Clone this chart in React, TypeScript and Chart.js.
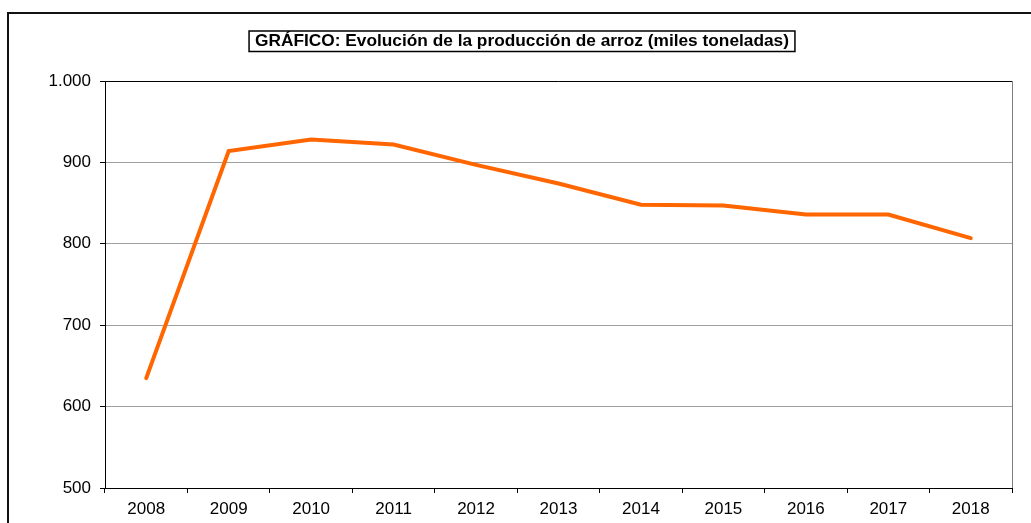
import React, { useEffect, useRef } from "react";
import { Chart, registerables } from "chart.js";

Chart.register(...registerables);

const years = ["2008", "2009", "2010", "2011", "2012", "2013", "2014", "2015", "2016", "2017", "2018"];
const production = [635, 914, 928, 922, 897, 874, 848, 847, 836, 836, 807];
const yTicks = [500, 600, 700, 800, 900, 1000];
const titleText = "GRÁFICO: Evolución de la producción de arroz (miles toneladas)";

const FONT = '"Liberation Sans", Arial, sans-serif';

function fmt(v: number): string {
  return String(v).replace(/\B(?=(\d{3})+(?!\d))/g, ".");
}

const decorPlugin = {
  id: "decor",
  afterDraw(chart: any) {
    const { ctx, chartArea } = chart;
    ctx.save();
    // outer frame
    ctx.strokeStyle = "#111";
    ctx.lineWidth = 2;
    ctx.strokeRect(8, 13, 1200, 700);
    // plot area top & right borders
    ctx.lineWidth = 1;
    ctx.strokeStyle = "#000";
    ctx.beginPath();
    ctx.moveTo(chartArea.left, Math.round(chartArea.top) + 0.5);
    ctx.lineTo(chartArea.right, Math.round(chartArea.top) + 0.5);
    ctx.stroke();
    ctx.strokeStyle = "#808080";
    ctx.beginPath();
    ctx.moveTo(Math.round(chartArea.right) + 0.5, chartArea.top);
    ctx.lineTo(Math.round(chartArea.right) + 0.5, chartArea.bottom);
    ctx.stroke();
    // title with box
    ctx.font = "bold 17.3px " + FONT;
    ctx.fillStyle = "#000";
    ctx.textAlign = "center";
    ctx.textBaseline = "middle";
    const cx = 522;
    const cy = 41.5;
    ctx.fillText(titleText, cx, cy);
    const w = ctx.measureText(titleText).width;
    ctx.lineWidth = 1.5;
    ctx.strokeStyle = "#000";
    ctx.strokeRect(cx - w / 2 - 6, 31, w + 12, 20.5);
    ctx.restore();
  },
};

export default function App() {
  const ref = useRef<HTMLCanvasElement | null>(null);

  useEffect(() => {
    if (!ref.current) return;
    const chart = new Chart(ref.current, {
      type: "line",
      data: {
        labels: years,
        datasets: [
          {
            data: production,
            borderColor: "#FF6600",
            backgroundColor: "#FF6600",
            borderWidth: 4,
            pointRadius: 0,
            tension: 0,
            borderCapStyle: "round",
            fill: false,
          },
        ],
      },
      options: {
        animation: false,
        responsive: false,
        maintainAspectRatio: false,
        layout: { padding: { left: 0, top: 81, right: 19, bottom: 0 } },
        plugins: {
          legend: { display: false },
          title: { display: false },
          tooltip: { enabled: false },
        },
        scales: {
          x: {
            type: "category",
            offset: true,
            grid: {
              offset: true,
              drawOnChartArea: false,
              drawTicks: true,
              tickLength: 5,
              tickColor: "#000",
              tickWidth: 1,
            },
            border: { display: true, color: "#000", width: 1 },
            ticks: {
              color: "#000",
              font: { family: FONT, size: 17 },
              padding: 6,
              maxRotation: 0,
              autoSkip: false,
            },
            afterFit(scale: any) {
              scale.height = 35;
            },
          },
          y: {
            min: 500,
            max: 1000,
            afterBuildTicks(scale: any) {
              scale.ticks = yTicks.map((v) => ({ value: v }));
            },
            grid: {
              color: "#a0a0a0",
              lineWidth: 1,
              drawTicks: true,
              tickLength: 5,
              tickColor: "#000",
              tickWidth: 1,
            },
            border: { display: true, color: "#000", width: 1 },
            ticks: {
              color: "#000",
              font: { family: FONT, size: 17 },
              padding: 9,
              callback: (v: any) => fmt(Number(v)),
            },
            afterFit(scale: any) {
              scale.width = 105;
            },
          },
        },
      },
      plugins: [decorPlugin],
    });
    return () => chart.destroy();
  }, []);

  return (
    <div style={{ position: "fixed", left: 0, top: 0, width: 1031, height: 523, background: "#fff" }}>
      <canvas ref={ref} width={1031} height={523} style={{ width: 1031, height: 523, display: "block" }} />
    </div>
  );
}
